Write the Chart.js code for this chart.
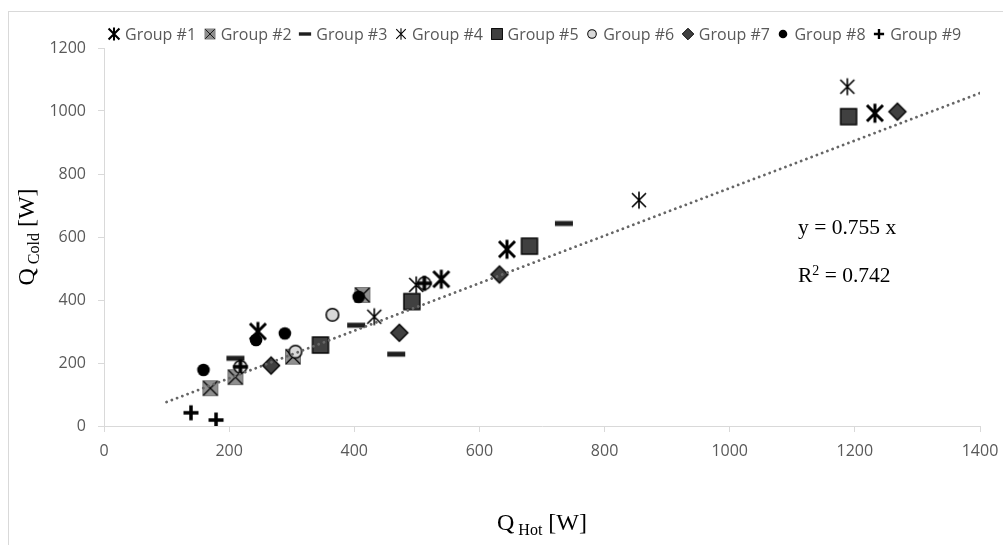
<!DOCTYPE html>
<html>
<head>
<meta charset="utf-8">
<script src="https://cdn.jsdelivr.net/npm/chart.js@4.4.0/dist/chart.umd.min.js"></script>
<style>
  html, body { margin: 0; padding: 0; background: #fff; }
  #wrap { position: relative; width: 1003px; height: 545px; overflow: hidden; }
  #frame { position: absolute; left: 8px; top: 11px; width: 1100px; height: 600px;
           border-left: 1px solid #d9d9d9; border-top: 1px solid #d9d9d9; }
  #chart { position: absolute; left: 0; top: 0; }
  #legend { position: absolute; left: 107px; top: 24px; display: flex;
            font: 16px 'Open Sans', sans-serif; color: #595959; line-height: 20px; white-space: nowrap; }
  .item { display: flex; align-items: center; margin-right: 6.6px; }
  .item canvas { margin-right: 4px; }
  .serif { position: absolute; font-family: 'Liberation Serif', 'Times New Roman', serif;
           color: #000; white-space: nowrap; }
  .sub { position: relative; top: 5px; font-size: 16px; }
  .sup { position: relative; top: -7px; font-size: 14px; }
</style>
</head>
<body>
<div id="wrap">
  <div id="frame"></div>
  <canvas id="chart" width="1003" height="545"></canvas>
  <div id="legend"></div>
  <div class="serif" id="ytitle" style="left:-74px; top:224px; width:200px; height:26px; line-height:26px;
       font-size:24px; text-align:center; transform:rotate(-90deg);">Q<span class="sub"> Cold</span> [W]</div>
  <div class="serif" id="xtitle" style="left:442px; top:509px; width:200px; line-height:26px;
       font-size:24px; text-align:center;">Q<span class="sub"> Hot</span> [W]</div>
  <div class="serif" style="left:798px; top:215px; font-size:21.5px; line-height:24px;">y = 0.755 x</div>
  <div class="serif" style="left:798px; top:263px; font-size:21.5px; line-height:24px;">R<span class="sup">2</span> = 0.742</div>
</div>
<script>
// 読み取った値 [Q_hot, Q_cold]
const group1 = [[246, 300], [539, 466], [644, 561], [1232, 993]];
const group2 = [[170, 120], [210, 155], [302, 220], [413, 416]];
const group3 = [[210, 215], [403, 320], [467, 228], [735, 643]];
const group4 = [[432, 347], [499, 448], [855, 717], [1188, 1077]];
const group5 = [[346, 257], [492, 395], [680, 571], [1190, 982]];
const group6 = [[218, 188], [306, 236], [365, 353], [512, 453]];
const group7 = [[267, 192], [472, 296], [632, 481], [1268, 998]];
const group8 = [[159, 178], [243, 273], [289, 294], [407, 410]];
const group9 = [[139, 42], [179, 19], [218, 188], [512, 453]];
// 近似直線 y = 0.755x の端点
const trendX = [100, 1400];
const trendY = [76, 1057];

const xTicks = [0, 200, 400, 600, 800, 1000, 1200, 1400];
const yTicks = [0, 200, 400, 600, 800, 1000, 1200];

const groups = [
  { label: 'Group #1', data: group1, kind: 'boldAst' },
  { label: 'Group #2', data: group2, kind: 'graySq' },
  { label: 'Group #3', data: group3, kind: 'dash' },
  { label: 'Group #4', data: group4, kind: 'thinAst' },
  { label: 'Group #5', data: group5, kind: 'darkSq' },
  { label: 'Group #6', data: group6, kind: 'lightCircle' },
  { label: 'Group #7', data: group7, kind: 'diamond' },
  { label: 'Group #8', data: group8, kind: 'blackCircle' },
  { label: 'Group #9', data: group9, kind: 'plus' },
];

function drawMarker(ctx, kind) {
  ctx.strokeStyle = '#000';
  ctx.fillStyle = '#000';
  ctx.lineCap = 'butt';
  if (kind === 'boldAst' || kind === 'thinAst') {
    const d = kind === 'boldAst' ? 8 : 7;
    const v = kind === 'boldAst' ? 9.5 : 8.5;
    ctx.lineWidth = kind === 'boldAst' ? 3 : 1.6;
    ctx.beginPath();
    ctx.moveTo(-d, -d); ctx.lineTo(d, d);
    ctx.moveTo(d, -d); ctx.lineTo(-d, d);
    ctx.moveTo(0, -v); ctx.lineTo(0, v);
    ctx.stroke();
  } else if (kind === 'graySq') {
    ctx.fillStyle = '#8f8f8f';
    ctx.fillRect(-7.5, -7.5, 15, 15);
    ctx.strokeStyle = '#7a7a7a';
    ctx.lineWidth = 1;
    ctx.strokeRect(-7.5, -7.5, 15, 15);
    ctx.strokeStyle = '#000';
    ctx.lineWidth = 1.2;
    ctx.beginPath();
    ctx.moveTo(-7, -7); ctx.lineTo(7, 7);
    ctx.moveTo(7, -7); ctx.lineTo(-7, 7);
    ctx.stroke();
  } else if (kind === 'dash') {
    ctx.fillStyle = '#1f1f1f';
    ctx.fillRect(-9, -2.5, 18, 5);
  } else if (kind === 'darkSq') {
    ctx.fillStyle = '#404040';
    ctx.fillRect(-8, -8, 16, 16);
    ctx.lineWidth = 1.4;
    ctx.strokeRect(-8, -8, 16, 16);
  } else if (kind === 'lightCircle') {
    ctx.fillStyle = '#d9d9d9';
    ctx.beginPath();
    ctx.arc(0, 0, 6.3, 0, Math.PI * 2);
    ctx.fill();
    ctx.lineWidth = 1.5;
    ctx.stroke();
  } else if (kind === 'diamond') {
    ctx.fillStyle = '#404040';
    ctx.beginPath();
    ctx.moveTo(0, -8.5); ctx.lineTo(8.5, 0); ctx.lineTo(0, 8.5); ctx.lineTo(-8.5, 0);
    ctx.closePath();
    ctx.fill();
    ctx.lineWidth = 1.4;
    ctx.stroke();
  } else if (kind === 'blackCircle') {
    ctx.beginPath();
    ctx.arc(0, 0, 6.3, 0, Math.PI * 2);
    ctx.fill();
  } else if (kind === 'plus') {
    ctx.lineWidth = 3.5;
    ctx.beginPath();
    ctx.moveTo(-7.5, 0); ctx.lineTo(7.5, 0);
    ctx.moveTo(0, -7.5); ctx.lineTo(0, 7.5);
    ctx.stroke();
  }
}

function makeMarker(kind, size, scale) {
  const c = document.createElement('canvas');
  c.width = size; c.height = size;
  const ctx = c.getContext('2d');
  ctx.translate(size / 2, size / 2);
  ctx.scale(scale, scale);
  drawMarker(ctx, kind);
  return c;
}

// 凡例（HTML）
const legendEl = document.getElementById('legend');
groups.forEach(g => {
  const item = document.createElement('div');
  item.className = 'item';
  item.appendChild(makeMarker(g.kind, 14, 0.68));
  const span = document.createElement('span');
  span.textContent = g.label;
  item.appendChild(span);
  legendEl.appendChild(item);
});

const datasets = groups.map((g, i) => ({
  label: g.label,
  data: g.data.map(p => ({ x: p[0], y: p[1] })),
  pointStyle: makeMarker(g.kind, 24, 1),
  pointRadius: 8,
  order: 9 - i,
}));
datasets.push({
  type: 'line',
  label: 'trend',
  data: trendX.map((x, i) => ({ x: x, y: trendY[i] })),
  borderColor: '#666666',
  borderWidth: 2.8,
  borderDash: [0.01, 5.6],
  borderCapStyle: 'round',
  pointRadius: 0,
  fill: false,
  order: -1,
});

const tickFont = { family: "'Open Sans', sans-serif", size: 16 };
const plain = v => String(v);

new Chart(document.getElementById('chart'), {
  type: 'scatter',
  data: { datasets },
  options: {
    responsive: false,
    animation: false,
    devicePixelRatio: 1,
    layout: { padding: { top: 48, right: 23, bottom: 0, left: 0 } },
    plugins: { legend: { display: false }, tooltip: { enabled: false } },
    scales: {
      x: {
        type: 'linear',
        min: xTicks[0],
        max: xTicks[xTicks.length - 1],
        afterBuildTicks: s => { s.ticks = xTicks.map(v => ({ value: v })); },
        afterFit: s => { s.height = 119; s.paddingRight = 0; s.paddingLeft = 0; },
        ticks: { font: tickFont, color: '#595959', padding: 10, callback: plain },
        grid: { drawOnChartArea: false, drawTicks: true, tickLength: 6, color: '#d9d9d9' },
        border: { color: '#d9d9d9', width: 1 },
      },
      y: {
        type: 'linear',
        min: yTicks[0],
        max: yTicks[yTicks.length - 1],
        afterBuildTicks: s => { s.ticks = yTicks.map(v => ({ value: v })); },
        afterFit: s => { s.width = 104; },
        ticks: { font: tickFont, color: '#595959', padding: 12, callback: plain },
        grid: { drawOnChartArea: false, drawTicks: true, tickLength: 6, color: '#d9d9d9' },
        border: { color: '#d9d9d9', width: 1 },
      },
    },
  },
});
</script>
</body>
</html>
